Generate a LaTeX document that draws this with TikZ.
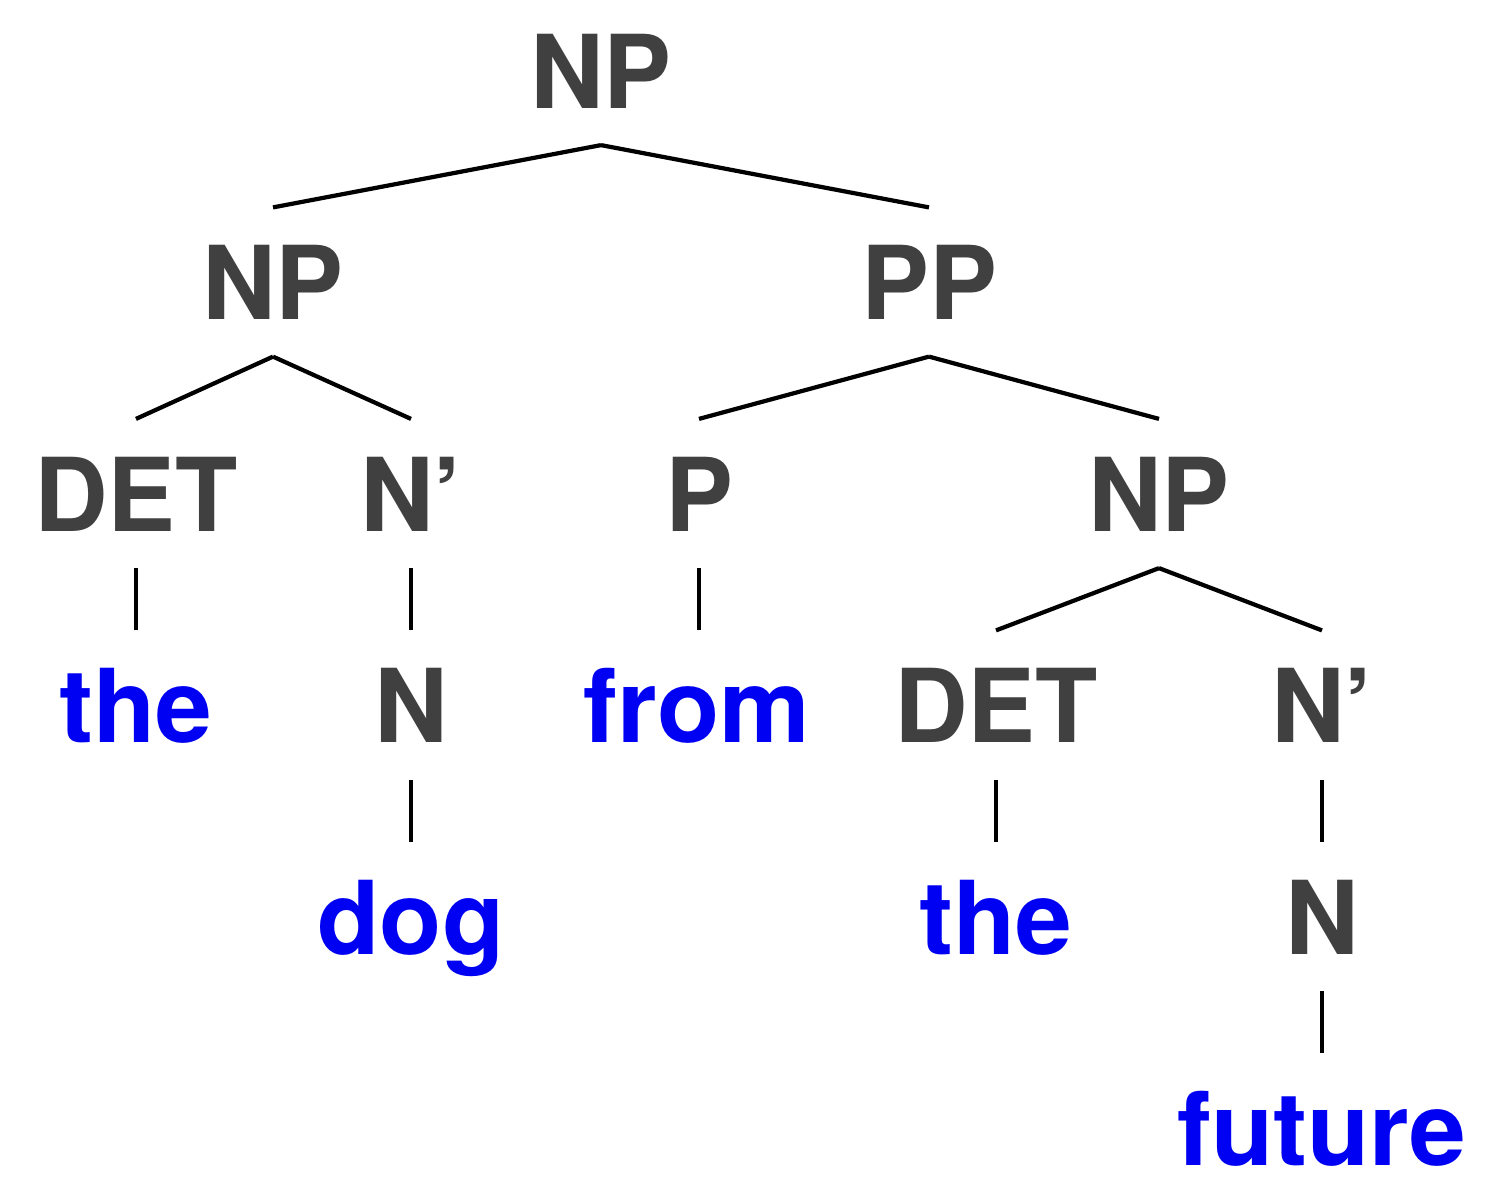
\documentclass[tikz,border=0pt]{standalone}
\usepackage{fontspec}
\setmainfont{TeX Gyre Heros}
\usetikzlibrary{positioning}
\definecolor{labelgray}{HTML}{404040}
\definecolor{wordblue}{HTML}{0000F2}
\begin{document}
\begin{tikzpicture}[node distance =2.115 cm ,line width=1.2pt,
cat/.style = {text=labelgray, font=\bfseries\fontsize{29}{29}\selectfont, text height=0.75cm, text depth=0pt, inner xsep=0pt, inner ysep=0.35cm},
word/.style = {cat, text=wordblue}]
    \useasboundingbox (0,0) rectangle (15,-12);
    \node[cat] (np0) at (6.01,-0.705) {NP};
    \node[cat] (np1) [below of=np0, xshift=-3.28cm] {NP};
    \node[cat] (pp) [below of=np0, xshift=3.28cm] {PP};

    \node[cat] (det1) [below of=np1, xshift=-1.37cm] {DET};
    \node[cat] (nbar1) [below of=np1, xshift=1.38cm] {N’};
    \node[cat] (p) [below of=pp, xshift=-2.30cm] {P};
    \node[cat] (np2) [below of=pp, xshift=2.30cm] {NP};

    \node[word] (the1) [below of=det1] {the};
    \node[cat] (n1) [below of=nbar1] {N};
    \node[word] (from) [below of=p, xshift=-0.02cm] {from};
    \node[cat] (det2) [below of=np2, xshift=-1.63cm] {DET};
    \node[cat] (nbar2) [below of=np2, xshift=1.63cm] {N’};

    \node[word] (dog) [below of=n1] {dog};
    \node[word] (the2) [below of=det2] {the};
    \node[cat] (n2) [below of=nbar2] {N};
    \node[word] (future) [below of=n2] {future};

    \draw (np0.south) -- (np1.north);
    \draw (np0.south) -- (pp.north);
    \draw (np1.south) -- (det1.north);
    \draw (np1.south) -- (nbar1.north);
    \draw (pp.south) -- (p.north);
    \draw (pp.south) -- (np2.north);

    \draw (det1.south) -- (the1.north);
    \draw (nbar1.south) -- (n1.north);
    \draw (p.south) -- (p.south |- from.north);
    \draw (np2.south) -- (det2.north);
    \draw (np2.south) -- (nbar2.north);

    \draw (n1.south) -- (dog.north);
    \draw (det2.south) -- (the2.north);
    \draw (nbar2.south) -- (n2.north);
    \draw (n2.south) -- (future.north);
\end{tikzpicture}
\end{document}
